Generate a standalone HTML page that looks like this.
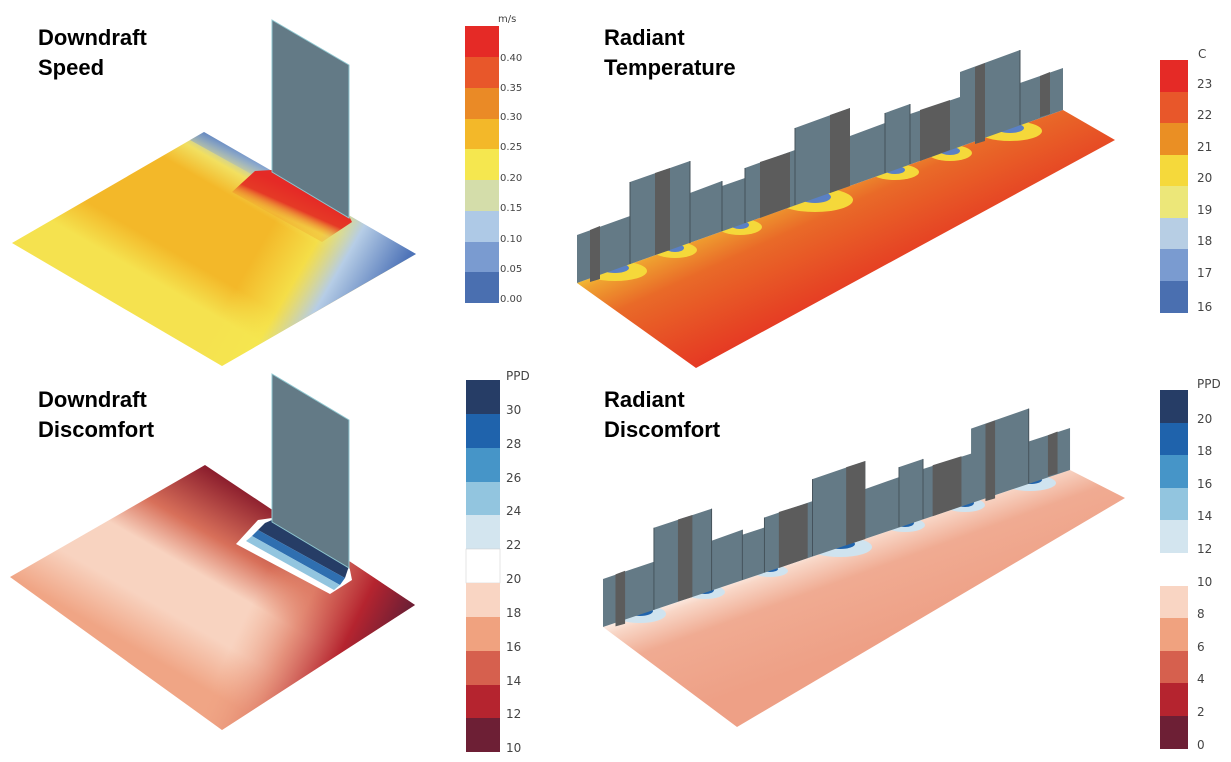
<!DOCTYPE html>
<html><head><meta charset="utf-8"><style>
html,body{margin:0;padding:0;background:#fff;}
svg{display:block;}
.t{font-family:"Liberation Sans",sans-serif;font-weight:bold;font-size:22px;fill:#000;}
.l{font-family:"DejaVu Sans","Liberation Sans",sans-serif;font-size:12px;fill:#444;}
.ls{font-family:"DejaVu Sans","Liberation Sans",sans-serif;font-size:10px;fill:#444;}
</style></head><body>
<svg width="1231" height="762" viewBox="0 0 1231 762" xmlns="http://www.w3.org/2000/svg">
<defs>
<linearGradient id="g1" gradientUnits="userSpaceOnUse" x1="204" y1="132" x2="108" y2="298">
<stop offset="0" stop-color="#9dbce0"/><stop offset="0.1" stop-color="#f2e060"/><stop offset="0.22" stop-color="#f3b829"/><stop offset="0.62" stop-color="#f3b829"/><stop offset="0.8" stop-color="#f5e24f"/><stop offset="1" stop-color="#f5e24f"/></linearGradient>
<linearGradient id="g1b" gradientUnits="userSpaceOnUse" x1="290" y1="195" x2="405" y2="262">
<stop offset="0" stop-color="#f5e74f" stop-opacity="0"/><stop offset="0.35" stop-color="#f5e74f" stop-opacity="0.8"/><stop offset="0.6" stop-color="#b6cde6"/><stop offset="1" stop-color="#4f74b8"/></linearGradient>
<linearGradient id="g1c" gradientUnits="userSpaceOnUse" x1="215" y1="130" x2="200" y2="165">
<stop offset="0" stop-color="#4a6fb0"/><stop offset="1" stop-color="#b6cde6" stop-opacity="0"/></linearGradient>
<linearGradient id="g1r" gradientUnits="userSpaceOnUse" x1="302" y1="193" x2="290" y2="220">
<stop offset="0" stop-color="#e52a26"/><stop offset="0.55" stop-color="#e53a26"/><stop offset="1" stop-color="#ef9a2a" stop-opacity="0.3"/></linearGradient>
<linearGradient id="g2" gradientUnits="userSpaceOnUse" x1="205" y1="465" x2="108" y2="633">
<stop offset="0" stop-color="#8a1c2c"/><stop offset="0.3" stop-color="#d8705a"/><stop offset="0.5" stop-color="#f8d3c0"/><stop offset="0.75" stop-color="#f8d3c0"/><stop offset="1" stop-color="#f0a585"/></linearGradient>
<linearGradient id="g2b" gradientUnits="userSpaceOnUse" x1="280" y1="545" x2="410" y2="608">
<stop offset="0" stop-color="#f0a585" stop-opacity="0"/><stop offset="0.35" stop-color="#e0806a" stop-opacity="0.8"/><stop offset="0.7" stop-color="#b5242f"/><stop offset="1" stop-color="#6d1f35"/></linearGradient>
<linearGradient id="g3" gradientUnits="userSpaceOnUse" x1="650" y1="245" x2="705" y2="365">
<stop offset="0" stop-color="#f3c535"/><stop offset="0.1" stop-color="#efa030"/><stop offset="0.35" stop-color="#e96a28"/><stop offset="1" stop-color="#e53823"/></linearGradient>
<linearGradient id="g4" gradientUnits="userSpaceOnUse" x1="680" y1="590" x2="720" y2="700">
<stop offset="0" stop-color="#ffffff"/><stop offset="0.15" stop-color="#f8d6c6"/><stop offset="0.4" stop-color="#f0ab92"/><stop offset="1" stop-color="#eea086"/></linearGradient>
<g id="wall">
<polygon fill="#647a86" points="577,235 630,216 630,182 690,161 690,193 722,181 722,186 745,178 745,168 795,150 795,128 850,108 850,136 885,123 885,113 910,104 910,114 960,97 960,72 1020,50 1020,83 1063,68 1063,110 577,283"/>
<polygon fill="#5c5c5c" points="590,230 600,226 600,279 590,282"/>
<polygon fill="#5c5c5c" points="655,173 670,168 670,250 655,255"/>
<polygon fill="#5c5c5c" points="760,162 790,152 790,207 760,218"/>
<polygon fill="#5c5c5c" points="830,115 850,108 850,186 830,193"/>
<polygon fill="#5c5c5c" points="920,110 950,100 950,150 920,161"/>
<polygon fill="#5c5c5c" points="975,67 985,63 985,141 975,144"/>
<polygon fill="#5c5c5c" points="1040,76 1050,72 1050,114 1040,117"/>
<g stroke="#44525a" stroke-width="1"><line x1="630" y1="182" x2="630" y2="264"/><line x1="690" y1="161" x2="690" y2="243"/><line x1="722" y1="181" x2="722" y2="231"/><line x1="745" y1="168" x2="745" y2="223"/><line x1="795" y1="128" x2="795" y2="205"/><line x1="885" y1="113" x2="885" y2="173"/><line x1="910" y1="104" x2="910" y2="164"/><line x1="1020" y1="50" x2="1020" y2="125"/></g>
</g>
</defs>
<rect width="1231" height="762" fill="#fff"/>

<!-- Top-left -->
<polygon points="12,243 204,132 416,254 222,366" fill="url(#g1)"/>
<polygon points="12,243 204,132 416,254 222,366" fill="url(#g1b)"/>
<polygon points="204,132 272,171 262,180 190,140" fill="url(#g1c)"/>
<polygon points="255,171 272,170 349,216 352,222 322,242 232,192" fill="url(#g1r)"/>
<polygon points="272,20 349,65 349,218 272,172" fill="#637a86" stroke="#8fc7d0" stroke-width="1"/>
<text class="t" x="38" y="45">Downdraft</text><text class="t" x="38" y="75">Speed</text>
<g>
<rect x="465" y="26" width="34" height="31" fill="#e52a26"/>
<rect x="465" y="57" width="34" height="31" fill="#e8572a"/>
<rect x="465" y="88" width="34" height="31" fill="#ea8a26"/>
<rect x="465" y="119" width="34" height="30" fill="#f3b829"/>
<rect x="465" y="149" width="34" height="31" fill="#f5e74f"/>
<rect x="465" y="180" width="34" height="31" fill="#d4ddaa"/>
<rect x="465" y="211" width="34" height="31" fill="#aec9e6"/>
<rect x="465" y="242" width="34" height="30" fill="#7a9bd0"/>
<rect x="465" y="272" width="34" height="31" fill="#4a6fb0"/>
<text class="ls" x="498" y="22">m/s</text>
<text class="ls" x="500" y="61">0.40</text><text class="ls" x="500" y="91">0.35</text><text class="ls" x="500" y="120">0.30</text><text class="ls" x="500" y="150">0.25</text><text class="ls" x="500" y="181">0.20</text><text class="ls" x="500" y="211">0.15</text><text class="ls" x="500" y="242">0.10</text><text class="ls" x="500" y="272">0.05</text><text class="ls" x="500" y="302">0.00</text>
</g>

<!-- Top-right -->
<polygon points="577,283 1063,110 1115,140 696,368" fill="url(#g3)"/>
<g fill="#f5d83a">
<ellipse cx="615" cy="271" rx="32" ry="10"/><ellipse cx="675" cy="250" rx="22" ry="8"/><ellipse cx="740" cy="227" rx="22" ry="8"/><ellipse cx="815" cy="200" rx="38" ry="12"/><ellipse cx="895" cy="172" rx="24" ry="8"/><ellipse cx="950" cy="153" rx="22" ry="8"/><ellipse cx="1010" cy="131" rx="32" ry="10"/>
</g>
<g fill="#5a80c4"><ellipse cx="615" cy="268" rx="14" ry="5"/><ellipse cx="675" cy="248" rx="9" ry="4"/><ellipse cx="740" cy="225" rx="9" ry="4"/><ellipse cx="815" cy="197" rx="16" ry="6"/><ellipse cx="895" cy="170" rx="10" ry="4"/><ellipse cx="950" cy="151" rx="10" ry="4"/><ellipse cx="1010" cy="128" rx="14" ry="5"/></g>
<use href="#wall"/>
<text class="t" x="604" y="45">Radiant</text><text class="t" x="604" y="75">Temperature</text>
<g>
<rect x="1160" y="60" width="28" height="32" fill="#e52a26"/>
<rect x="1160" y="92" width="28" height="31" fill="#e8572a"/>
<rect x="1160" y="123" width="28" height="32" fill="#ea8f24"/>
<rect x="1160" y="155" width="28" height="31" fill="#f5d93b"/>
<rect x="1160" y="186" width="28" height="32" fill="#ece779"/>
<rect x="1160" y="218" width="28" height="31" fill="#b7cee4"/>
<rect x="1160" y="249" width="28" height="32" fill="#7a9bd0"/>
<rect x="1160" y="281" width="28" height="32" fill="#4a6fb0"/>
<text class="l" x="1198" y="58">C</text>
<text class="l" x="1197" y="88">23</text><text class="l" x="1197" y="119">22</text><text class="l" x="1197" y="151">21</text><text class="l" x="1197" y="182">20</text><text class="l" x="1197" y="214">19</text><text class="l" x="1197" y="245">18</text><text class="l" x="1197" y="277">17</text><text class="l" x="1197" y="311">16</text>
</g>

<!-- Bottom-left -->
<polygon points="10,577 205,465 415,605 222,730" fill="url(#g2)"/>
<polygon points="10,577 205,465 415,605 222,730" fill="url(#g2b)"/>
<polygon points="258,520 272,518 349,565 352,580 330,594 236,544" fill="#ffffff"/>
<polygon points="265,523 272,520 349,566 345,578 258,530" fill="#263d66"/>
<polygon points="258,530 345,578 340,585 252,536" fill="#2f6fb0"/>
<polygon points="252,536 340,585 334,590 246,541" fill="#92c5df"/>
<polygon points="272,374 349,420 349,568 272,522" fill="#637a86" stroke="#8fc7d0" stroke-width="1"/>
<text class="t" x="38" y="407">Downdraft</text><text class="t" x="38" y="437">Discomfort</text>
<g>
<rect x="466" y="380" width="34" height="34" fill="#263d66"/>
<rect x="466" y="414" width="34" height="34" fill="#1f63ac"/>
<rect x="466" y="448" width="34" height="34" fill="#4695c8"/>
<rect x="466" y="482" width="34" height="33" fill="#92c5df"/>
<rect x="466" y="515" width="34" height="34" fill="#d3e5ef"/>
<rect x="466" y="549" width="34" height="34" fill="#ffffff" stroke="#ccc" stroke-width="0.5"/>
<rect x="466" y="583" width="34" height="34" fill="#f9d5c3"/>
<rect x="466" y="617" width="34" height="34" fill="#f0a27f"/>
<rect x="466" y="651" width="34" height="34" fill="#d6604e"/>
<rect x="466" y="685" width="34" height="33" fill="#b5242f"/>
<rect x="466" y="718" width="34" height="34" fill="#6d1f35"/>
<text class="l" x="506" y="380" font-size="13">PPD</text>
<text class="l" x="506" y="414" font-size="14">30</text><text class="l" x="506" y="448" font-size="14">28</text><text class="l" x="506" y="482" font-size="14">26</text><text class="l" x="506" y="515" font-size="14">24</text><text class="l" x="506" y="549" font-size="14">22</text><text class="l" x="506" y="583" font-size="14">20</text><text class="l" x="506" y="617" font-size="14">18</text><text class="l" x="506" y="651" font-size="14">16</text><text class="l" x="506" y="685" font-size="14">14</text><text class="l" x="506" y="718" font-size="14">12</text><text class="l" x="506" y="752" font-size="14">10</text>
</g>

<!-- Bottom-right -->
<polygon points="603,627 1070,470 1125,498 737,727" fill="url(#g4)"/>
<g fill="#cfe3ef"><ellipse cx="640" cy="614" rx="26" ry="9"/><ellipse cx="705" cy="592" rx="20" ry="7"/><ellipse cx="770" cy="571" rx="18" ry="6"/><ellipse cx="840" cy="547" rx="32" ry="10"/><ellipse cx="905" cy="525" rx="20" ry="7"/><ellipse cx="965" cy="505" rx="20" ry="7"/><ellipse cx="1030" cy="483" rx="26" ry="8"/></g>
<g fill="#1f63ac"><ellipse cx="640" cy="611" rx="13" ry="5"/><ellipse cx="705" cy="590" rx="9" ry="4"/><ellipse cx="770" cy="569" rx="8" ry="3"/><ellipse cx="840" cy="544" rx="15" ry="5"/><ellipse cx="905" cy="523" rx="9" ry="4"/><ellipse cx="965" cy="503" rx="9" ry="4"/><ellipse cx="1030" cy="480" rx="12" ry="4"/></g>
<use href="#wall" transform="matrix(0.961,0.0329,0,1,48.5,325)"/>
<text class="t" x="604" y="407">Radiant</text><text class="t" x="604" y="437">Discomfort</text>
<g>
<rect x="1160" y="390" width="28" height="33" fill="#263d66"/>
<rect x="1160" y="423" width="28" height="32" fill="#1f63ac"/>
<rect x="1160" y="455" width="28" height="33" fill="#4695c8"/>
<rect x="1160" y="488" width="28" height="32" fill="#92c5df"/>
<rect x="1160" y="520" width="28" height="33" fill="#d3e5ef"/>
<rect x="1160" y="553" width="28" height="33" fill="#ffffff"/>
<rect x="1160" y="586" width="28" height="32" fill="#f9d5c3"/>
<rect x="1160" y="618" width="28" height="33" fill="#f0a27f"/>
<rect x="1160" y="651" width="28" height="32" fill="#d6604e"/>
<rect x="1160" y="683" width="28" height="33" fill="#b5242f"/>
<rect x="1160" y="716" width="28" height="33" fill="#6d1f35"/>
<text class="l" x="1197" y="388" font-size="13">PPD</text>
<text class="l" x="1197" y="423" font-size="14">20</text><text class="l" x="1197" y="455" font-size="14">18</text><text class="l" x="1197" y="488" font-size="14">16</text><text class="l" x="1197" y="520" font-size="14">14</text><text class="l" x="1197" y="553" font-size="14">12</text><text class="l" x="1197" y="586" font-size="14">10</text><text class="l" x="1197" y="618" font-size="14">8</text><text class="l" x="1197" y="651" font-size="14">6</text><text class="l" x="1197" y="683" font-size="14">4</text><text class="l" x="1197" y="716" font-size="14">2</text><text class="l" x="1197" y="749" font-size="14">0</text>
</g>
</svg>
</body></html>
